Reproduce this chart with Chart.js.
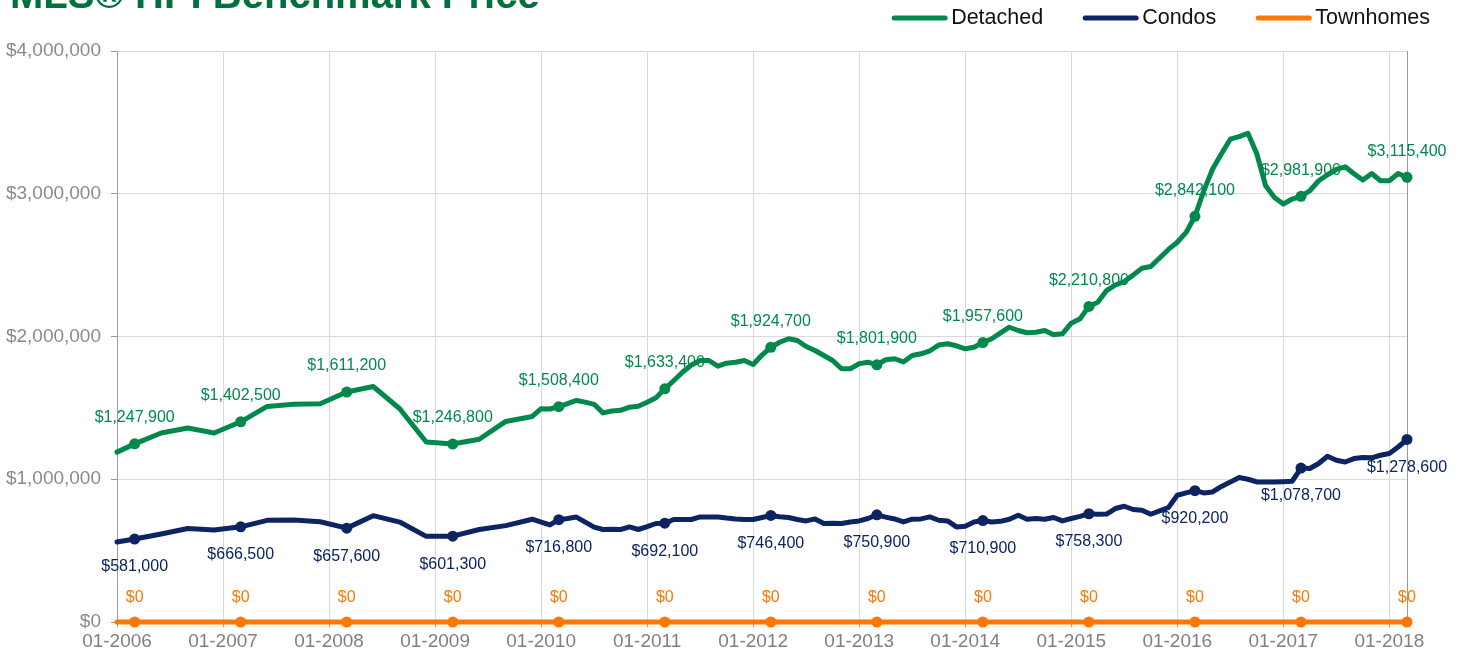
<!DOCTYPE html>
<html>
<head>
<meta charset="utf-8">
<title>MLS® HPI Benchmark Price</title>
<script src="https://cdn.jsdelivr.net/npm/chart.js@4.4.1/dist/chart.umd.min.js"></script>
<style>
  html, body { margin: 0; padding: 0; background: #fff; overflow: hidden; }
  #wrap { width: 1464px; height: 660px; position: relative; }
</style>
</head>
<body>
<div id="wrap"><canvas id="hpiChart" width="1464" height="660"></canvas></div>
<script>
// meses de 01-2006 ate 03-2018 (categorias do eixo x)
const months = [];
for (let y = 2006; y <= 2018; y++) {
  for (let m = 1; m <= 12; m++) {
    if (y === 2018 && m > 3) break;
    months.push(String(m).padStart(2, '0') + '-' + y);
  }
}

// so os janeiros aparecem no eixo
const yearTicks = ['01-2006', '01-2007', '01-2008', '01-2009', '01-2010', '01-2011', '01-2012',
  '01-2013', '01-2014', '01-2015', '01-2016', '01-2017', '01-2018'];

const priceTicks = [0, 1000000, 2000000, 3000000, 4000000];

// antes de 2010 os dados sao trimestrais (null = sem valor no mes)
const detached = [
  1190000, null, 1247900, null, null, 1324000, null, null, 1359000, null, null, 1324000,
  null, null, 1402500, null, null, 1510000, null, null, 1525000, null, null, 1529000,
  null, null, 1611200, null, null, 1650000, null, null, 1494000, null, null, 1261000,
  null, null, 1246800, null, null, 1280000, null, null, 1405000, null, null, 1440000,
  1494000, 1492000, 1508400, 1530000, 1552000, 1540000, 1525000, 1465000, 1478000, 1483000, 1505000, 1512000,
  1540000, 1571000, 1633400, 1690000, 1750000, 1800000, 1832000, 1832000, 1792000, 1813000, 1820000, 1832000,
  1804000, 1870000, 1924700, 1960000, 1984000, 1972000, 1930000, 1902000, 1867000, 1832000, 1774000, 1774000,
  1810000, 1820000, 1801900, 1837000, 1844000, 1822000, 1867000, 1879000, 1900000, 1940000, 1949000, 1935000,
  1914000, 1925000, 1957600, 1984000, 2025000, 2065000, 2042000, 2026000, 2030000, 2042000, 2012000, 2019000,
  2093000, 2124000, 2210800, 2240000, 2322000, 2361000, 2385000, 2430000, 2478000, 2490000, 2550000, 2610000,
  2660000, 2729000, 2842100, 3020000, 3173000, 3280000, 3382000, 3400000, 3424000, 3280000, 3056000, 2974000,
  2928000, 2963000, 2981900, 3021000, 3091000, 3133000, 3170000, 3189000, 3140000, 3096000, 3142000, 3091000,
  3091000, 3142000, 3115400
];

const condos = [
  560000, null, 581000, null, null, 616000, null, null, 655000, null, null, 645000,
  null, null, 666500, null, null, 712000, null, null, 714000, null, null, 702000,
  null, null, 657600, null, null, 745000, null, null, 700000, null, null, 600000,
  null, null, 601300, null, null, 648000, null, null, 675000, null, null, 720000,
  700000, 680000, 716800, 725000, 735000, 700000, 665000, 648000, 650000, 648000, 666000, 648000,
  668000, 690000, 692100, 718000, 718000, 718000, 736000, 736000, 736000, 728000, 722000, 718000,
  718000, 732000, 746400, 738000, 732000, 718000, 708000, 722000, 690000, 692000, 690000, 700000,
  708000, 725000, 750900, 735000, 722000, 701000, 720000, 722000, 736000, 713000, 708000, 666000,
  671000, 700000, 710900, 700000, 705000, 720000, 748000, 720000, 725000, 720000, 732000, 708000,
  725000, 740000, 758300, 755000, 756000, 795000, 811000, 788000, 783000, 755000, 778000, 802000,
  888000, 904000, 920200, 904000, 911000, 950000, 980000, 1012000, 1000000, 981000, 981000, 981000,
  983000, 986000, 1078700, 1075000, 1110000, 1161000, 1133000, 1121000, 1145000, 1152000, 1150000, 1168000,
  1180000, 1226000, 1278600
];

// townhomes sem dados: tudo zero
const townhomes = months.map(() => 0);

const GREEN = '#00894b';
const NAVY = '#0c2462';
const ORANGE = '#ff7700';
const FONT = "'Liberation Sans', Arial, Helvetica, sans-serif";

Chart.defaults.font.family = FONT;

// marcador e rotulo so em marco de cada ano
const isMarked = i => (i - 2) % 12 === 0;

const money = v => '$' + Number(v).toLocaleString('en-US');

// rotulos dos pontos + titulo + legenda
const extrasPlugin = {
  id: 'extras',
  beforeDatasetsDraw(chart) {
    const { ctx, chartArea } = chart;
    ctx.save();
    ctx.strokeStyle = '#9a9a9a';
    ctx.lineWidth = 1;
    ctx.beginPath();
    ctx.moveTo(chartArea.right + 0.5, chartArea.top);
    ctx.lineTo(chartArea.right + 0.5, chartArea.bottom + 5);
    ctx.stroke();
    ctx.restore();
  },
  afterDatasetsDraw(chart) {
    const ctx = chart.ctx;
    const offsets = [-26, 28, -24];
    ctx.save();
    ctx.font = '16px ' + FONT;
    ctx.textAlign = 'center';
    ctx.textBaseline = 'middle';
    chart.data.datasets.forEach((ds, d) => {
      const meta = chart.getDatasetMeta(d);
      ctx.fillStyle = ds.borderColor;
      meta.data.forEach((pt, i) => {
        if (!isMarked(i) || ds.data[i] === null) return;
        ctx.fillText(money(ds.data[i]), pt.x, pt.y + offsets[d]);
      });
    });
    ctx.restore();
  },
  afterDraw(chart) {
    const ctx = chart.ctx;
    ctx.save();
    // titulo (cortado no topo, como no original)
    ctx.font = 'bold 40px ' + FONT;
    ctx.fillStyle = '#00703c';
    ctx.textAlign = 'left';
    ctx.textBaseline = 'alphabetic';
    ctx.fillText('MLS® HPI Benchmark Price', 10, 8);

    // legenda
    ctx.font = '21.5px ' + FONT;
    ctx.textBaseline = 'middle';
    let x = 1430;
    const items = chart.data.datasets.slice().reverse();
    items.forEach(ds => {
      const w = ctx.measureText(ds.label).width;
      const textX = x - w;
      ctx.fillStyle = '#111';
      ctx.fillText(ds.label, textX, 18);
      ctx.strokeStyle = ds.borderColor;
      ctx.lineWidth = 5;
      ctx.lineCap = 'round';
      ctx.beginPath();
      ctx.moveTo(textX - 57, 18);
      ctx.lineTo(textX - 6, 18);
      ctx.stroke();
      x = textX - 57 - 42;
    });
    ctx.restore();
  }
};

const makeSet = (label, data, color) => ({
  label: label,
  data: data,
  borderColor: color,
  backgroundColor: color,
  borderWidth: 5,
  borderJoinStyle: 'round',
  borderCapStyle: 'round',
  tension: 0,
  spanGaps: true,
  fill: false,
  clip: false,
  pointRadius: c => isMarked(c.dataIndex) ? 5.5 : 0,
  pointBorderWidth: 0,
  pointBackgroundColor: color
});

const ctx = document.getElementById('hpiChart').getContext('2d');

new Chart(ctx, {
  type: 'line',
  data: {
    labels: months,
    datasets: [
      makeSet('Detached', detached, GREEN),
      makeSet('Condos', condos, NAVY),
      makeSet('Townhomes', townhomes, ORANGE)
    ]
  },
  options: {
    responsive: false,
    animation: false,
    layout: { padding: { top: 51, right: 57, bottom: 0, left: 0 } },
    plugins: {
      legend: { display: false },
      tooltip: { enabled: false }
    },
    scales: {
      x: {
        type: 'category',
        offset: false,
        afterFit: s => { s.height = 38; },
        grid: { color: '#dadada', tickLength: 5, tickColor: '#9a9a9a' },
        border: { color: '#9a9a9a' },
        ticks: {
          autoSkip: false,
          maxRotation: 0,
          padding: 3,
          color: '#808080',
          font: { size: 19 },
          callback: function (val) {
            const lab = this.getLabelForValue(val);
            return yearTicks.includes(lab) ? lab : null;
          }
        }
      },
      y: {
        min: priceTicks[0],
        max: priceTicks[priceTicks.length - 1],
        afterFit: s => { s.width = 117; },
        afterBuildTicks: s => { s.ticks = priceTicks.map(v => ({ value: v })); },
        grid: { color: '#dadada', tickLength: 6, tickColor: '#9a9a9a' },
        border: { color: '#9a9a9a' },
        ticks: {
          padding: 10,
          color: '#8a8a8a',
          font: { size: 19 },
          callback: v => money(v)
        }
      }
    }
  },
  plugins: [extrasPlugin]
});
</script>
</body>
</html>
